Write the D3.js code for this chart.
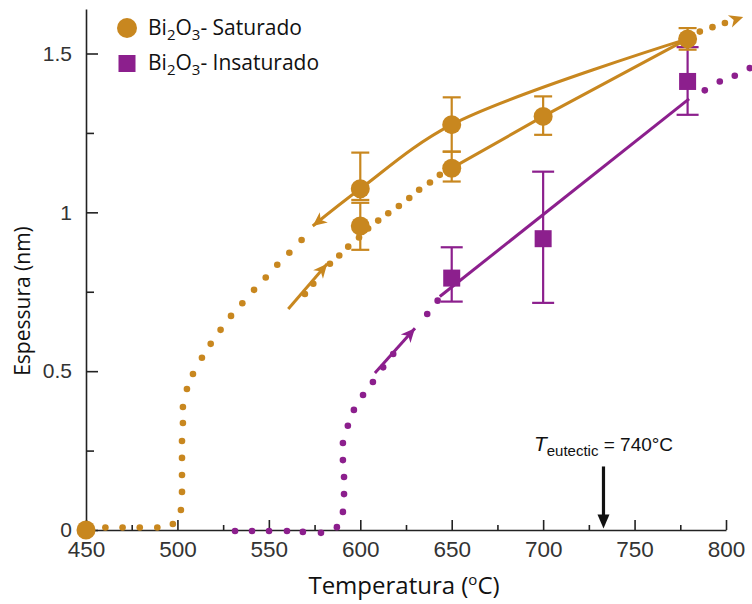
<!DOCTYPE html>
<html>
<head>
<meta charset="utf-8">
<script src="https://cdn.jsdelivr.net/npm/d3@7"></script>
<style>
  body { margin: 0; background: #fff; }
  svg { display: block; }
</style>
</head>
<body>
<div id="app"></div>
<script>
const ORANGE = "#C8871F";
const PURPLE = "#8C1F8D";

// axis ticks
const xMajor = [450, 500, 550, 600, 650, 700, 750, 800];
const xMinor = [475, 525, 575, 625, 675, 725, 775];
const yMajor = [0, 0.5, 1, 1.5];
const yMinor = [0.25, 0.75, 1.25];

// Bi2O3 saturado (circles + error bars)
const satTemp  = [450, 600, 600, 650, 650, 700, 779];
const satThick = [0, 1.074, 0.957, 1.276, 1.139, 1.302, 1.546];
const satLow   = [null, 1.039, 0.882, 1.191, 1.097, 1.244, 1.512];
const satHigh  = [null, 1.188, 1.03, 1.362, 1.191, 1.365, 1.58];

// Bi2O3 insaturado (squares + error bars)
const insTemp  = [650, 700, 779];
const insThick = [0.793, 0.917, 1.412];
const insLow   = [0.719, 0.715, 1.307];
const insHigh  = [0.89, 1.128, 1.52];

// saturado, cooling branch: solid curve then dotted path down to zero
const coolTemp  = [574, 600, 650, 779];
const coolThick = [0.957, 1.074, 1.276, 1.546];
const coolDotTemp  = [567.9, 561.2, 554.6, 548.3, 541.9, 535.5, 529.3, 523.6, 518.2, 513.4, 508.5, 505.2, 503.0, 503.0, 502.5, 502.5, 502.5, 502.5, 501.9, 497.5, 489, 479.4, 470, 460.6];
const coolDotThick = [0.913, 0.873, 0.835, 0.795, 0.756, 0.714, 0.674, 0.630, 0.586, 0.542, 0.491, 0.444, 0.387, 0.337, 0.280, 0.227, 0.173, 0.120, 0.063, 0.019, 0.008, 0.008, 0.008, 0.008];

// saturado, heating branch
const heatArrowTemp  = [560.6, 581.9];
const heatArrowThick = [0.696, 0.838];
const heatDotTemp  = [569.7, 574.3, 583.4, 588.5, 593.4, 599.3, 604.3, 609.8, 615.3, 621.1, 626.8, 632.2, 638.1, 643.5];
const heatDotThick = [0.743, 0.775, 0.838, 0.864, 0.892, 0.921, 0.949, 0.974, 0.997, 1.020, 1.045, 1.071, 1.094, 1.118];
const heatTemp  = [650, 700, 779];
const heatThick = [1.139, 1.302, 1.546];
const heatEndTemp  = [785.7, 792.6, 799.4, 809.4];
const heatEndThick = [1.569, 1.583, 1.596, 1.615];

// insaturado heating branch
const insDotTemp  = [531.5, 540.8, 550.1, 559.9, 568.6, 578.5, 587.2, 590.5, 591.1, 591.1, 590.5, 590.5, 593.2, 596.5, 601.5, 606.9, 612.5, 618, 636.6, 642.3];
const insDotThick = [-0.003, -0.003, -0.003, -0.003, -0.006, -0.009, 0.009, 0.057, 0.113, 0.167, 0.220, 0.274, 0.328, 0.378, 0.425, 0.466, 0.512, 0.554, 0.680, 0.722];
const insArrowTemp  = [608, 629.9];
const insArrowThick = [0.494, 0.635];
const insFitTemp  = [643.5, 779.8];
const insFitThick = [0.735, 1.357];
const insEndTemp  = [788.4, 796.6, 804.8, 813];
const insEndThick = [1.384, 1.412, 1.430, 1.454];

// eutectic marker
const eutTemp = 733;
const eutTop = 0.2, eutTip = 0.005;

const zip = (a, b) => a.map((d, i) => [d, b[i]]);

const width = 752, height = 604;
const x = d3.scaleLinear().domain([450, 800]).range([86, 726]);
const y = d3.scaleLinear().domain([0, 1.5]).range([530, 53.5]);
const yAxisScale = y.copy().domain([0, 1.64]).range([y(0), y(1.64)]);

const svg = d3.select("#app").append("svg")
    .attr("width", width)
    .attr("height", height);

// axes
const xAxisG = svg.append("g")
    .attr("transform", "translate(0," + y(0) + ")")
    .call(d3.axisBottom(x).tickValues(xMajor).tickSize(-10).tickSizeOuter(0).tickPadding(11).tickFormat(d3.format("d")));
svg.append("g")
    .attr("transform", "translate(0," + y(0) + ")")
    .call(d3.axisBottom(x).tickValues(xMinor).tickSize(-5).tickSizeOuter(0).tickFormat(""))
    .select(".domain").remove();
const yAxisG = svg.append("g")
    .attr("transform", "translate(" + x(450) + ",0)")
    .call(d3.axisLeft(yAxisScale).tickValues(yMajor).tickSize(-12).tickSizeOuter(0).tickPadding(14).tickFormat(d3.format("")));
svg.append("g")
    .attr("transform", "translate(" + x(450) + ",0)")
    .call(d3.axisLeft(yAxisScale).tickValues(yMinor).tickSize(-8).tickSizeOuter(0).tickFormat(""))
    .select(".domain").remove();

svg.selectAll(".domain, .tick line").attr("stroke", "#222").attr("stroke-width", 1.6);
xAxisG.selectAll("text").attr("font-family", "Liberation Sans, Arial, sans-serif").attr("font-size", 22.5).attr("fill", "#333");
yAxisG.selectAll("text").attr("font-family", "Liberation Sans, Arial, sans-serif").attr("font-size", 21).attr("fill", "#333");

// axis titles
const xt = svg.append("text")
    .attr("x", 404).attr("y", 594)
    .attr("text-anchor", "middle")
    .attr("font-family", "Open Sans, sans-serif")
    .attr("font-size", 24).attr("fill", "#111");
xt.append("tspan").text("Temperatura (");
xt.append("tspan").attr("dy", -9).attr("font-size", 15).text("o");
xt.append("tspan").attr("dy", 9).text("C)");

svg.append("text")
    .attr("transform", "translate(30,301) rotate(-90)")
    .attr("text-anchor", "middle")
    .attr("font-family", "Open Sans, sans-serif")
    .attr("font-size", 21).attr("fill", "#111")
    .text("Espessura (nm)");

const line = d3.line().x(d => x(d[0])).y(d => y(d[1]));

function dots(data, color, r) {
    svg.append("g").selectAll("circle").data(data).join("circle")
        .attr("cx", d => x(d[0])).attr("cy", d => y(d[1]))
        .attr("r", r).attr("fill", color);
}

function arrowHead(from, to, color, len, half, notch) {
    const x0 = x(from[0]), y0 = y(from[1]), x1 = x(to[0]), y1 = y(to[1]);
    const ang = Math.atan2(y1 - y0, x1 - x0) * 180 / Math.PI;
    svg.append("path")
        .attr("d", `M0,0 L${-len},${-half} L${-len + notch},0 L${-len},${half} Z`)
        .attr("transform", `translate(${x1},${y1}) rotate(${ang})`)
        .attr("fill", color);
}

// dotted paths
dots(zip(coolDotTemp, coolDotThick), ORANGE, 3.3);
dots(zip(heatDotTemp, heatDotThick), ORANGE, 3.3);
dots(zip(heatEndTemp.slice(0, -1), heatEndThick.slice(0, -1)), ORANGE, 3.3);
dots(zip(insDotTemp, insDotThick), PURPLE, 3.3);
dots(zip(insEndTemp, insEndThick), PURPLE, 3.3);

// solid lines
svg.append("path").datum(zip(coolTemp, coolThick))
    .attr("d", line.curve(d3.curveCatmullRom.alpha(0.5)))
    .attr("fill", "none").attr("stroke", ORANGE).attr("stroke-width", 3);
line.curve(d3.curveLinear);
svg.append("path").datum(zip(heatTemp, heatThick))
    .attr("d", line).attr("fill", "none").attr("stroke", ORANGE).attr("stroke-width", 3);
svg.append("path").datum(zip(heatArrowTemp, heatArrowThick))
    .attr("d", line).attr("fill", "none").attr("stroke", ORANGE).attr("stroke-width", 3);
svg.append("path").datum(zip(insArrowTemp, insArrowThick))
    .attr("d", line).attr("fill", "none").attr("stroke", PURPLE).attr("stroke-width", 3);
svg.append("path").datum(zip(insFitTemp, insFitThick))
    .attr("d", line).attr("fill", "none").attr("stroke", PURPLE).attr("stroke-width", 3);

// arrowheads
arrowHead([coolTemp[1], coolThick[1]], [coolTemp[0], coolThick[0]], ORANGE, 14, 6.5, 4);
arrowHead([heatArrowTemp[0], heatArrowThick[0]], [heatArrowTemp[1], heatArrowThick[1]], ORANGE, 14, 6.5, 4);
arrowHead([insArrowTemp[0], insArrowThick[0]], [insArrowTemp[1], insArrowThick[1]], PURPLE, 14, 6.5, 4);
arrowHead([heatEndTemp[2], heatEndThick[2]], [heatEndTemp[3], heatEndThick[3]], ORANGE, 14, 6.5, 4);

// error bars
function errorBars(t, lo, hi, color, cap) {
    const g = svg.append("g").attr("stroke", color).attr("stroke-width", 2.2).attr("fill", "none");
    t.forEach((d, i) => {
        if (lo[i] == null) return;
        const cx = x(d);
        g.append("line").attr("x1", cx).attr("x2", cx).attr("y1", y(lo[i])).attr("y2", y(hi[i]));
        g.append("line").attr("x1", cx - cap / 2).attr("x2", cx + cap / 2).attr("y1", y(lo[i])).attr("y2", y(lo[i]));
        g.append("line").attr("x1", cx - cap / 2).attr("x2", cx + cap / 2).attr("y1", y(hi[i])).attr("y2", y(hi[i]));
    });
}
errorBars(insTemp, insLow, insHigh, PURPLE, 22);
errorBars(satTemp, satLow, satHigh, ORANGE, 18);

// markers
svg.append("g").selectAll("rect").data(zip(insTemp, insThick)).join("rect")
    .attr("x", d => x(d[0]) - 8.5).attr("y", d => y(d[1]) - 8.5)
    .attr("width", 17).attr("height", 17).attr("fill", PURPLE);
svg.append("g").selectAll("circle").data(zip(satTemp, satThick)).join("circle")
    .attr("cx", d => x(d[0])).attr("cy", d => y(d[1]))
    .attr("r", 9.5).attr("fill", ORANGE);

// eutectic arrow
svg.append("line")
    .attr("x1", x(eutTemp)).attr("x2", x(eutTemp))
    .attr("y1", y(eutTop)).attr("y2", y(eutTip) - 10)
    .attr("stroke", "#111").attr("stroke-width", 3.2);
arrowHead([eutTemp, eutTop], [eutTemp, eutTip], "#111", 14, 6, 0);
const et = svg.append("text")
    .attr("x", x(eutTemp)).attr("y", y(eutTop) - 15)
    .attr("text-anchor", "middle")
    .attr("font-family", "Liberation Sans, Arial, sans-serif")
    .attr("font-size", 19).attr("fill", "#111");
et.append("tspan").attr("font-style", "italic").attr("font-size", 21).text("T");
et.append("tspan").attr("dy", 5).attr("font-size", 15).text("eutectic");
et.append("tspan").attr("dy", -5).text(" = 740°C");

// legend
function legendLabel(ty, label) {
    const t = svg.append("text")
        .attr("x", 148).attr("y", ty)
        .attr("font-family", "Open Sans, sans-serif")
        .attr("font-size", 21).attr("fill", "#111");
    t.append("tspan").text("Bi");
    t.append("tspan").attr("dy", 5).attr("font-size", 15).text("2");
    t.append("tspan").attr("dy", -5).text("O");
    t.append("tspan").attr("dy", 5).attr("font-size", 15).text("3");
    t.append("tspan").attr("dy", -5).text("- " + label);
}
svg.append("circle").attr("cx", 127).attr("cy", 28).attr("r", 10).attr("fill", ORANGE);
legendLabel(35, "Saturado");
svg.append("rect").attr("x", 118.5).attr("y", 55).attr("width", 17).attr("height", 17).attr("fill", PURPLE);
legendLabel(70, "Insaturado");
</script>
</body>
</html>
